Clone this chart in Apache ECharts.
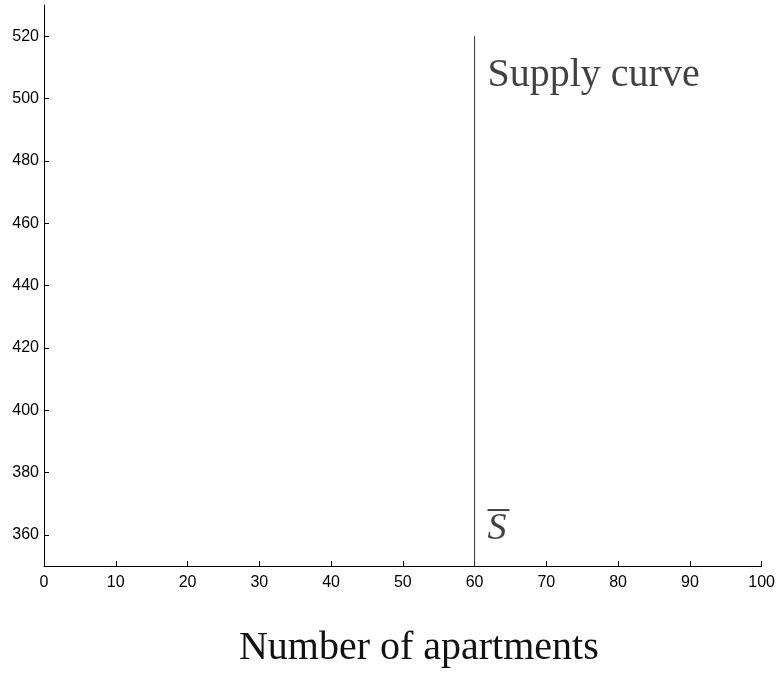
<!DOCTYPE html>
<html>
<head>
<meta charset="utf-8">
<script src="https://cdn.jsdelivr.net/npm/echarts@6/dist/echarts.min.js"></script>
<style>html,body{margin:0;padding:0;background:#fff}#c{width:778px;height:673px}</style>
</head>
<body>
<div id="c"></div>
<script>
const supplyX = [60, 60];
const supplyY = [350, 520];
const yTicks = [360, 380, 400, 420, 440, 460, 480, 500, 520];
const xLabelTitle = 'Number of apartments';
const supplyLabel = 'Supply curve';
const supplyLabelAt = [61.8, 507.5];
const sBarAt = [61.8, 362.5];

const chart = echarts.init(document.getElementById('c'));
chart.setOption({
  animation: false,
  backgroundColor: '#fff',
  grid: {left: 44, right: 14, top: 5, bottom: 100, containLabel: false},
  xAxis: {
    type: 'value', min: 0, max: 100, interval: 10,
    name: xLabelTitle, nameLocation: 'middle', nameGap: 62,
    nameTextStyle: {fontFamily: 'Liberation Serif', fontSize: 40, color: '#111', padding: [0, 0, 0, 32]},
    axisLine: {show: true, onZero: false, lineStyle: {color: '#000', width: 1}},
    axisTick: {show: true, inside: true, length: 5, lineStyle: {color: '#000'}},
    axisLabel: {fontFamily: 'Liberation Sans', fontSize: 16, color: '#000', margin: 9},
    splitLine: {show: false}
  },
  yAxis: {
    type: 'value', min: 350, max: 530,
    axisLine: {show: true, onZero: false, lineStyle: {color: '#000', width: 1}},
    axisTick: {show: true, inside: true, length: 5, lineStyle: {color: '#000'}, customValues: yTicks},
    axisLabel: {fontFamily: 'Liberation Sans', fontSize: 16, color: '#000', margin: 5, customValues: yTicks},
    splitLine: {show: false}
  },
  series: [
    {
      type: 'line', symbol: 'none',
      data: supplyX.map((x, i) => [x, supplyY[i]]),
      lineStyle: {color: '#333', width: 1}
    },
    {
      type: 'scatter', symbolSize: 0,
      data: [supplyLabelAt],
      label: {show: true, position: 'inside', align: 'left', verticalAlign: 'middle',
        formatter: supplyLabel, fontFamily: 'Liberation Serif', fontSize: 40, color: '#111'}
    },
    {
      type: 'scatter', symbolSize: 0,
      data: [sBarAt],
      label: {show: true, position: 'inside', align: 'left', verticalAlign: 'middle',
        formatter: '{bar| }\n{s|S}',
        rich: {
          bar: {width: 22, height: 2, backgroundColor: '#111', lineHeight: 4, align: 'left'},
          s: {fontFamily: 'Liberation Serif', fontStyle: 'italic', fontSize: 38, color: '#111', lineHeight: 34, align: 'left'}
        }}
    }
  ]
});
</script>
</body>
</html>
